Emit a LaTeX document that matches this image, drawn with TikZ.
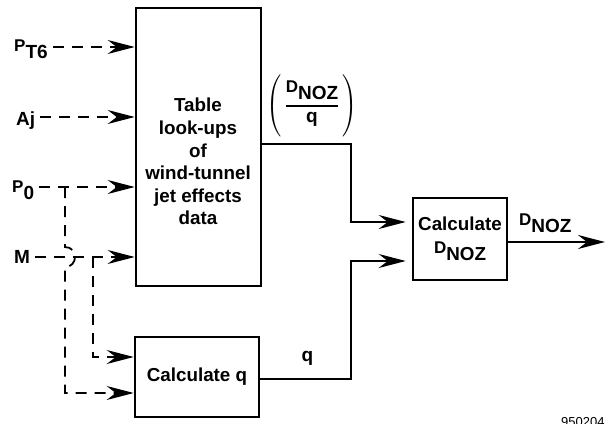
\documentclass[tikz,border=0pt]{standalone}
\usepackage{amsmath}
\usepackage{fontspec}
\setmainfont{Liberation Sans}
\usetikzlibrary{arrows.meta,calc}
\newcommand\Pre[1]{{\fontsize{17}{18}\selectfont #1}}
\newcommand\Sub[1]{\raisebox{-7pt}{#1}}
\newcommand\lblfont{\bfseries\fontsize{19}{20}\selectfont}
\begin{document}
\begin{tikzpicture}[x=1pt,y=-1pt,
  blk/.style={draw,line width=2.6pt,inner sep=0pt,font=\bfseries\fontsize{18.8}{22.6}\selectfont,align=center},
  blktext/.style={inner sep=0pt,font=\bfseries\fontsize{18.8}{22.6}\selectfont,align=center},
  lbl/.style={inner sep=0pt,font=\lblfont},
  conn/.style={line width=1.8pt},
  dsh/.style={conn,dash pattern=on 11pt off 8pt},
  arr/.style={-{Stealth[length=27pt,width=14pt,inset=9pt]}},
]
\useasboundingbox (0,0) rectangle (613,423);
% boxes
\node[blk,minimum width=125pt,minimum height=278pt] (tab) at (198.5,147) {};
\node[blktext] (tabtxt) at (198,161.7) {Table\\look-ups\\of\\wind-tunnel\\jet effects\\data};
\node[blk,minimum width=124pt,minimum height=80pt] (cq) at (197,377) {Calculate q};
\node[blk,minimum width=94pt,minimum height=82pt] (dn) at (460,239) {Calculate\\\Pre{D}\Sub{NOZ}};
% input labels
\node[lbl,anchor=base west] (pt6) at (14,51.5) {\Pre{P}\Sub{T6}};
\node[lbl,anchor=base west] (aj) at (16,125) {Aj};
\node[lbl,anchor=base west] (p0) at (12,192) {\Pre{P}\Sub{0}};
\node[lbl,anchor=base west] (m) at (14,263) {M};
% line start points
\coordinate (s1) at ($(pt6.east)+(5,0)$);
\coordinate (s2) at ($(aj.east)+(5,0)$);
\coordinate (s3) at ($(p0.east)+(5,0)$);
\coordinate (s4) at ($(m.east)+(5,0)$);
\draw[dsh,arr] (s1 |- 0,47) -- (tab.west |- 0,47);
\draw[dsh,arr] (s2 |- 0,117) -- (tab.west |- 0,117);
\draw[dsh,arr] (s3 |- 0,187) -- (tab.west |- 0,187);
\draw[dsh,arr] (s4 |- 0,257) -- (tab.west |- 0,257);
% branches to Calculate q
\coordinate (j0) at (65,187);
\coordinate (hop1) at (65,247);
\coordinate (hop2) at (65,267);
\coordinate (c0) at (65,393);
\draw[dsh,arr] (j0) -- (hop1) .. controls (78.3,247) and (78.3,267) .. (hop2) -- (c0) -- (cq.west |- c0);
\coordinate (jm) at (93,257);
\coordinate (cm) at (93,357);
\draw[dsh,arr] (jm) -- (cm) -- (cq.west |- cm);
% solid outputs
\coordinate (k1) at (351,144);
\coordinate (k2) at (351,222);
\draw[conn,arr,shorten >=6pt] (tab.east |- k1) -- (k1) -- (k2) -- (dn.west |- k2);
\coordinate (k3) at (351,379);
\coordinate (k4) at (351,261);
\draw[conn,arr,shorten >=6pt] (cq.east |- k3) -- (k3) -- (k4) -- (dn.west |- k4);
\coordinate (out) at (605,242);
\draw[conn,arr] (dn.east |- out) -- (out);
% labels on connectors
\node[lbl,anchor=base west] (dout) at (519,225) {\Pre{D}\Sub{NOZ}};
\node[lbl,anchor=base] (ql) at (307.5,361) {q};
\node[inner sep=0pt,font=\lblfont] (frac) at (312,106) {$\left(\vrule height 25pt depth 25pt width 0pt\mkern3mu\genfrac{}{}{1.8pt}{0}{\hbox{\lblfont\Pre{D}\Sub{NOZ}}}{\hbox{\lblfont q}}\mkern3mu\right)$};
\node[anchor=north west,inner sep=0pt,font=\fontsize{13}{13}\selectfont] (id) at (561,417.5) {950204};
\end{tikzpicture}
\end{document}
